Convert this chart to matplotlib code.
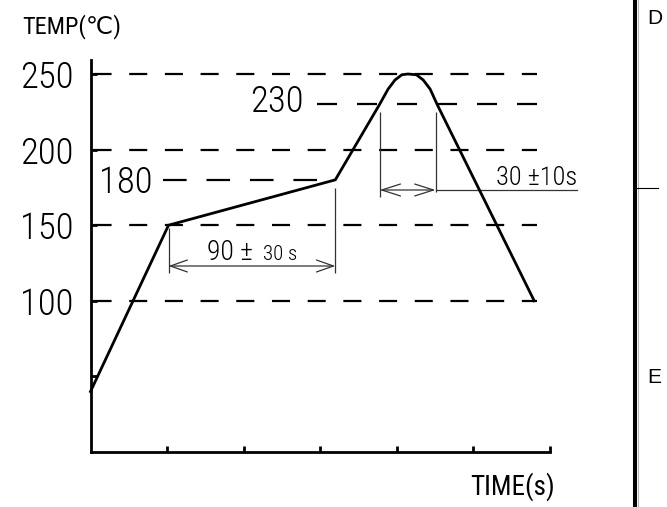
import matplotlib
matplotlib.use("Agg")
import matplotlib.pyplot as plt
from matplotlib.lines import Line2D
from matplotlib.patches import FancyArrowPatch

# ---------------- data ----------------
profile_time = [0, 1.02, 3.2, 3.78, 3.89, 3.98, 4.07, 4.15, 4.26, 4.35, 4.44, 4.53, 5.8]
profile_temp = [40, 150, 180, 230, 240, 246, 249.5, 250, 249.5, 246, 240, 230, 100]

grid_levels = [100, 150, 200, 250]
ytick_values = [50, 100, 150, 200, 250]
ytick_labels = ["", "100", "150", "200", "250"]
xtick_values = [1, 2, 3, 4, 5, 6]

soak_level = 180
soak_label = "180"
peak_level = 230
peak_label = "230"

soak_start, soak_end = 1.02, 3.2          # 90 ± 30 s interval
peak_start, peak_end = 3.78, 4.51         # 30 ± 10 s interval

# ---------------- fonts ----------------
NUM = ["Roboto Condensed", "DejaVu Sans"]
TTL = ["Roboto Condensed", "DejaVu Sans"]
plain = ["Liberation Sans", "DejaVu Sans"]

plt.rcParams["lines.scale_dashes"] = False

W, H = 667, 507
fig = plt.figure(figsize=(W / 100, H / 100), dpi=100)

x0_px, y0_px = 90.5, 452
px_per_x = 76.5
px_per_y = 1.512
ax = fig.add_axes([x0_px / W, (H - y0_px) / H, 6 * px_per_x / W, 392 / H])
ax.set_xlim(0, 6)
ax.set_ylim(0, 392 / px_per_y)

for s in ["top", "right"]:
    ax.spines[s].set_visible(False)
for s in ["left", "bottom"]:
    ax.spines[s].set_linewidth(2.0)

ax.set_xticks(xtick_values)
ax.set_xticklabels([""] * len(xtick_values))
ax.set_yticks(ytick_values)
ax.set_yticklabels(ytick_labels, family=NUM, fontsize=26.5, fontweight="light")
ax.tick_params(axis="both", direction="in", length=4, width=2)
ax.tick_params(axis="y", pad=12)

# dashed reference lines
x_end = (537 - x0_px) / px_per_x
ax.hlines(grid_levels, 0, x_end, colors="black", linewidth=1.6,
          linestyles=[(23.9, (13.0, 12.7))])
ax.hlines([soak_level], (163 - x0_px) / px_per_x, soak_end, colors="black",
          linewidth=1.6, linestyles=[(0, (17.0, 14.3))])
ax.hlines([peak_level], (317 - x0_px) / px_per_x, x_end, colors="black",
          linewidth=1.6, linestyles=[(0, (14.4, 14.4))])

# level labels
ax.text((153 - x0_px) / px_per_x, (y0_px - 193) / px_per_y, soak_label,
        ha="right", va="baseline", fontsize=26.5, family=NUM, fontweight="light")
ax.text((304 - x0_px) / px_per_x, (y0_px - 112) / px_per_y, peak_label,
        ha="right", va="baseline", fontsize=26.5, family=NUM, fontweight="light")

# temperature profile
ax.plot(profile_time, profile_temp, color="black", linewidth=2.0,
        solid_joinstyle="miter", clip_on=False, zorder=5)

# ---------------- dimension: 90 ± 30 s ----------------
dim_c = "#333333"
arr_y = (y0_px - 266) / px_per_y
bot_y = (y0_px - 273) / px_per_y
ax.vlines([soak_start], bot_y, (y0_px - 228) / px_per_y, colors=dim_c, linewidth=0.9)
ax.vlines([soak_end], bot_y, (y0_px - 188) / px_per_y, colors=dim_c, linewidth=0.9)
ax.add_patch(FancyArrowPatch((soak_start, arr_y), (soak_end, arr_y),
                             arrowstyle="<->,head_length=1.22,head_width=0.43",
                             mutation_scale=10, color=dim_c, linewidth=0.9,
                             shrinkA=0, shrinkB=0))
base = (y0_px - 260) / px_per_y
ax.text((207 - x0_px) / px_per_x, base, "90 ±", ha="left", va="baseline",
        fontsize=20, family=NUM, fontweight="light")
ax.text((263 - x0_px) / px_per_x, base, "30 s", ha="left", va="baseline",
        fontsize=15, family=NUM, fontweight="light")

# ---------------- dimension: 30 ± 10 s ----------------
arr2_y = (y0_px - 190) / px_per_y
ax.vlines([peak_start], (y0_px - 197) / px_per_y, (y0_px - 112) / px_per_y,
          colors=dim_c, linewidth=0.9)
ax.vlines([peak_end], (y0_px - 192) / px_per_y, (y0_px - 112) / px_per_y,
          colors=dim_c, linewidth=0.9)
ax.add_patch(FancyArrowPatch((peak_start, arr2_y), (peak_end, arr2_y),
                             arrowstyle="<->,head_length=1.35,head_width=0.43",
                             mutation_scale=10, color=dim_c, linewidth=0.9,
                             shrinkA=0, shrinkB=0))
lead_end = (577 - x0_px) / px_per_x
ax.plot([peak_end, lead_end], [arr2_y, arr2_y], color=dim_c, linewidth=0.9, clip_on=False)
ax.text(lead_end, (y0_px - 185) / px_per_y, "30 ±10s", ha="right", va="baseline",
        fontsize=19, family=NUM, fontweight="light")

# ---------------- axis titles ----------------
fig.text(22 / W, 1 - 33 / H, "TEMP(℃)", ha="left", va="baseline", fontsize=17.5,
         family=TTL + ["Noto Sans CJK JP"])
fig.text(470 / W, 1 - 495 / H, "TIME(s)", ha="left", va="baseline", fontsize=19.5,
         family=TTL)

# ---------------- right border ----------------
fig.add_artist(Line2D([635 / W, 635 / W], [0, 1], transform=fig.transFigure,
                      color="black", linewidth=2.9))
fig.add_artist(Line2D([638 / W, 638 / W], [0, 1], transform=fig.transFigure,
                      color="#b5b5b5", linewidth=0.8))
fig.add_artist(Line2D([637 / W, 658 / W], [1 - 188 / H, 1 - 188 / H],
                      transform=fig.transFigure, color="black", linewidth=0.8))
fig.text(647 / W, 1 - 24 / H, "D", ha="left", va="baseline", fontsize=15, family=plain)
fig.text(647 / W, 1 - 383 / H, "E", ha="left", va="baseline", fontsize=15, family=plain)

fig.savefig("out.png", dpi=100)
